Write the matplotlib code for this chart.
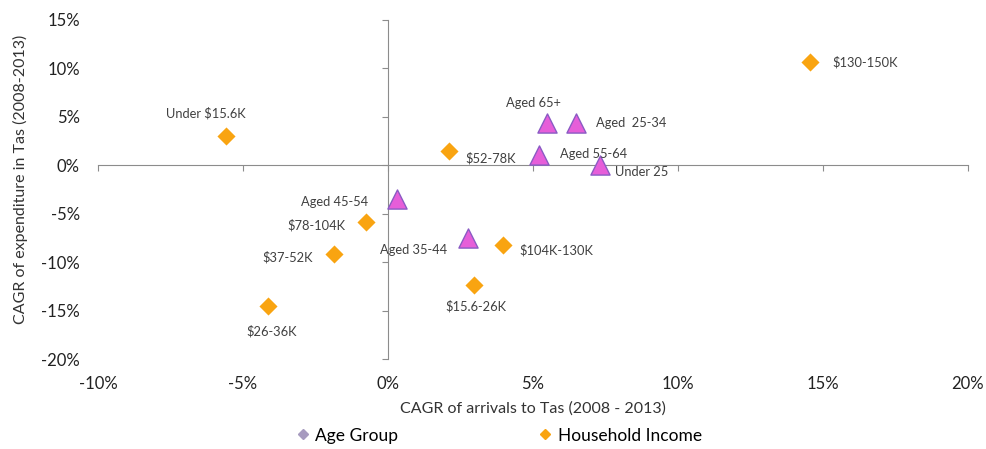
import matplotlib.pyplot as plt
from matplotlib.lines import Line2D
from matplotlib.ticker import PercentFormatter

plt.rcParams['font.family'] = ['Lato', 'DejaVu Sans']
plt.rcParams['axes.unicode_minus'] = False

# Household income groups (CAGR %, arrivals vs expenditure)
income_labels = ['Under $15.6K', '$130-150K', '$52-78K', '$78-104K',
                 '$37-52K', '$26-36K', '$15.6-26K', '$104K-130K']
income_x = [-5.6, 14.55, 2.1, -0.75, -1.85, -4.15, 2.95, 3.95]
income_y = [3.0, 10.7, 1.5, -5.9, -9.2, -14.5, -12.4, -8.2]

# Age groups
age_labels = ['Aged 65+', 'Aged  25-34', 'Aged 55-64', 'Under 25',
              'Aged 45-54', 'Aged 35-44']
age_x = [5.5, 6.5, 5.2, 7.3, 0.3, 2.75]
age_y = [4.4, 4.4, 1.1, 0.0, -3.5, -7.5]

# label offsets in pixels (dx, dy, horizontal alignment)
income_offsets = [(-20, 23, 'center'), (22, -1, 'left'), (17, -7, 'left'),
                  (-21, -3, 'right'), (-21, -3, 'right'), (4, -26, 'center'),
                  (2, -21, 'center'), (17, -6, 'left')]
age_offsets = [(-14, 20, 'center'), (20, 0, 'left'), (21, 1, 'left'),
               (15, -7, 'left'), (-29, -3, 'right'), (-21, -12, 'right')]

orange = '#F9A411'
magenta = '#E65ED9'
text_col = '#404040'

fig = plt.figure(figsize=(9.86, 4.49), dpi=100)
ax = fig.add_axes([0.0994, 0.2004, 0.8823, 0.7551])

ax.scatter(income_x, income_y, marker='D', s=85, color=orange, zorder=3,
           linewidths=0)
ax.scatter(age_x, age_y, marker='^', s=190, color=magenta, edgecolors='#8A5BC4',
           linewidths=1.0, zorder=3)

px = 0.72
for lab, x, y, (dx, dy, ha) in zip(income_labels, income_x, income_y, income_offsets):
    ax.annotate(lab, (x, y), xytext=(dx * px, dy * px), textcoords='offset points',
                ha=ha, va='center', fontsize=9.3, color=text_col)
for lab, x, y, (dx, dy, ha) in zip(age_labels, age_x, age_y, age_offsets):
    ax.annotate(lab, (x, y), xytext=(dx * px, dy * px), textcoords='offset points',
                ha=ha, va='center', fontsize=9.3, color=text_col)

ax.set_xlim(-10, 20)
ax.set_ylim(-20, 15)
ax.set_xticks(range(-10, 21, 5))
ax.set_yticks(range(-20, 16, 5))
ax.xaxis.set_major_formatter(PercentFormatter(decimals=0))
ax.yaxis.set_major_formatter(PercentFormatter(decimals=0))
for s in ax.spines.values():
    s.set_visible(False)
ax.tick_params(length=0, labelsize=12, labelcolor='#222222')
ax.tick_params(axis='y', pad=13)
ax.tick_params(axis='x', pad=12)

# axis lines crossing at zero, with small tick marks
axis_col = '#8C8C8C'
sx = ax.secondary_xaxis(20 / 35)
sx.set_xticks(range(-10, 21, 5))
sx.tick_params(direction='out', length=4, color=axis_col, labelbottom=False,
               labeltop=False, top=False, bottom=True)
sx.spines['bottom'].set_color(axis_col)
sx.spines['top'].set_color(axis_col)
sy = ax.secondary_yaxis(10 / 30)
sy.set_yticks(range(-20, 16, 5))
sy.tick_params(direction='out', length=4, color=axis_col, labelleft=False,
               labelright=False, left=True, right=False)
sy.spines['left'].set_color(axis_col)
sy.spines['right'].set_color(axis_col)

ax.set_xlabel('CAGR of arrivals to Tas (2008 - 2013)', fontsize=11.5, color='#333333',
              labelpad=7)
ax.set_ylabel('CAGR of expenditure in Tas (2008-2013)', fontsize=11.5, color='#333333')
ax.yaxis.set_label_coords(-0.08, 0.53)

handles = [Line2D([], [], marker='D', color='#A79BBF', linestyle='none', markersize=5),
           Line2D([], [], marker='D', color=orange, linestyle='none', markersize=5)]
fig.legend(handles, ['Age Group', 'Household Income'], loc='center',
           bbox_to_anchor=(0.505, 0.03), ncol=2, frameon=False, fontsize=12.5,
           columnspacing=8, handletextpad=0.2, handlelength=1,
           borderpad=0.1)

fig.savefig('out.png', dpi=100)
